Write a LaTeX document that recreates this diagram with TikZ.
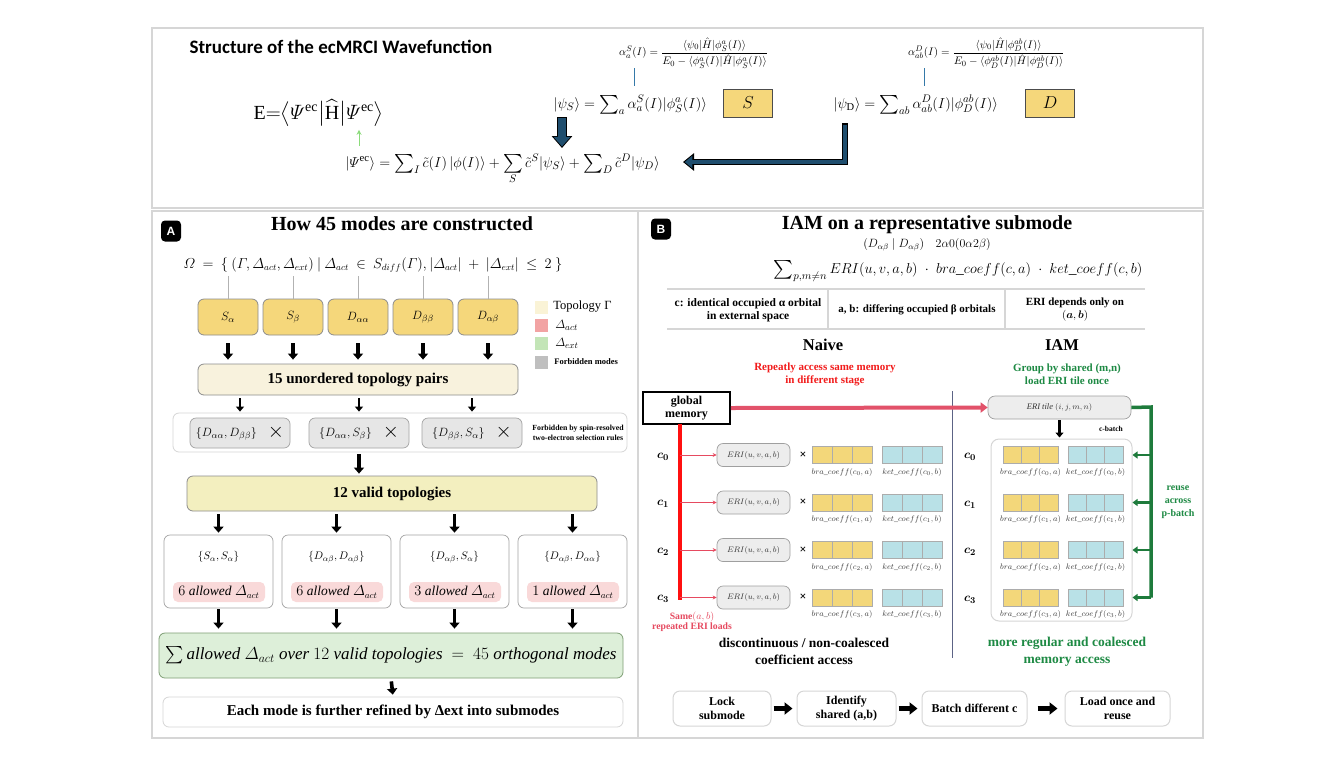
\documentclass[tikz,border=0pt]{standalone}
\usepackage{amsmath}
\usepackage{graphicx}
\usepackage{fontspec}
\setmainfont{Liberation Serif}
\newfontfamily\calibri{Carlito}
\newfontfamily\badgefont{Liberation Sans}
\usetikzlibrary{positioning,arrows.meta,calc}

\definecolor{panelgray}{HTML}{D6D6D6}
\definecolor{boxgray}{HTML}{8C8C8C}
\definecolor{gold}{HTML}{F5D77B}
\definecolor{cream}{HTML}{F8F2DD}
\definecolor{paleyellow}{HTML}{F3EFBF}
\definecolor{palepink}{HTML}{F9D9D9}
\definecolor{legpink}{HTML}{F2A3A3}
\definecolor{legcream}{HTML}{FAF3D6}
\definecolor{leggreen}{HTML}{C3E5B7}
\definecolor{leggray}{HTML}{BFBFBF}
\definecolor{palegreen}{HTML}{DDEFD9}
\definecolor{greenedge}{HTML}{7E9E74}
\definecolor{forbidgray}{HTML}{E6E6E6}
\definecolor{navyblue}{HTML}{1F4E6E}
\definecolor{tickblue}{HTML}{3579A8}
\definecolor{lightgreen}{HTML}{8BDB7A}
\definecolor{memred}{HTML}{E2526A}
\definecolor{hotred}{HTML}{FF1010}
\definecolor{textred}{HTML}{F21B1B}
\definecolor{pinkred}{HTML}{E64A60}
\definecolor{iamgreen}{HTML}{1E8A44}
\definecolor{linegreen}{HTML}{1E7B3C}
\definecolor{cellgold}{HTML}{F3D77A}
\definecolor{cellcyan}{HTML}{B9E1E7}
\definecolor{divider}{HTML}{5C6385}
\definecolor{tilegray}{HTML}{EDEDED}

\newcommand{\fsz}[2]{\fontsize{#1}{#2}\selectfont}
\newcommand{\msum}{\mathop{\vcenter{\hbox{\scalebox{1.3}{$\textstyle\sum$}}}}}

\begin{document}
\begin{tikzpicture}[x=1pt, y=-1pt,
  panel/.style={draw=panelgray, line width=1.6pt},
  badge/.style={fill=black, rounded corners=4pt, minimum width=20pt, minimum height=21pt, inner sep=0pt, text=white, font=\badgefont\bfseries\fsz{12}{12}},
  heading/.style={font=\bfseries\fsz{20}{22}},
  topo/.style={draw=boxgray, fill=gold, rounded corners=6pt, line width=0.8pt, minimum width=60pt, minimum height=36pt, inner sep=0pt, font=\fsz{13}{13}},
  stage/.style={draw=boxgray, rounded corners=6pt, line width=0.8pt, inner sep=0pt, font=\bfseries\fsz{15}{15}},
  forbid/.style={draw=boxgray!80, fill=forbidgray, rounded corners=6pt, line width=0.7pt, minimum width=100pt, minimum height=30pt, inner sep=0pt, font=\fsz{13}{13}},
  pairbox/.style={draw=boxgray!80, fill=white, rounded corners=6pt, line width=0.7pt, minimum width=109pt, minimum height=73pt, inner sep=0pt},
  allowed/.style={fill=palepink, rounded corners=5pt, minimum width=92pt, minimum height=20pt, inner sep=0pt, font=\fsz{13.5}{13.5}},
  legsq/.style={minimum width=13pt, minimum height=13pt, inner sep=0pt},
  tickline/.style={tickblue, line width=1pt},
  blk/.style={line width=3.6pt, -{Triangle[width=10pt,length=6pt]}},
  blks/.style={line width=2.8pt, -{Triangle[width=8pt,length=5pt]}},
  blkh/.style={line width=5pt, -{Triangle[width=12pt,length=8pt]}},
  flowbox/.style={draw=panelgray, rounded corners=7pt, line width=1pt, minimum height=35pt, inner sep=0pt, align=center, font=\bfseries\fsz{12}{14}},
  eri/.style={draw=gray!75, fill=tilegray, rounded corners=6pt, line width=0.7pt, minimum width=73pt, minimum height=23pt, inner sep=0pt, text=black!80, font=\fsz{8.5}{8.5}},
  cellrow/.style={draw=gray!65, line width=0.7pt, minimum height=17pt, inner sep=0pt,
    path picture={\draw[gray!65, line width=0.7pt]
      ($(path picture bounding box.south west)!1/3!(path picture bounding box.south east)$) -- ($(path picture bounding box.north west)!1/3!(path picture bounding box.north east)$)
      ($(path picture bounding box.south west)!2/3!(path picture bounding box.south east)$) -- ($(path picture bounding box.north west)!2/3!(path picture bounding box.north east)$);}},
  coeff/.style={font=\fsz{8}{8}, text=black!75, inner sep=1pt, label distance=3pt},
  clabel/.style={font=\fsz{13}{13}},
  mult/.style={font=\bfseries\fsz{12}{12}},
  gline/.style={linegreen, line width=3.5pt},
  garr/.style={linegreen, line width=2.5pt, -{Triangle[width=7pt,length=5pt]}},
  rarr/.style={pinkred, line width=1pt, -{Stealth[width=4pt,length=4pt]}},
]
\useasboundingbox (0,0) rectangle (1344,756);
\fill[white] (0,0) rectangle (1344,756);

% Panels
\draw[panel] (152,28) rectangle (1203,208);
\draw[panel] (152,211) rectangle (637.5,738);
\draw[panel] (638,211) rectangle (1203,738);

% Wavefunction structure
\node[anchor=west, font=\calibri\bfseries\fsz{19}{21}] (title) at (186,47) {Structure of the ecMRCI Wavefunction};
\node[anchor=base west, font=\fsz{20}{22}] (energy) at (250,119) {$\mathrm{E}{=}\big\langle\varPsi^{\mathrm{ec}}\big|\widehat{\mathrm{H}}\big|\varPsi^{\mathrm{ec}}\big\rangle$};
\node[anchor=base west, font=\fsz{15.3}{18}] (psiec) at (342,167) {$|\varPsi^{\mathrm{ec}}\rangle = \msum\nolimits_{I}\tilde{c}(I)\,|\phi(I)\rangle + \msum\limits_{S}\tilde{c}^{S}|\psi_{S}\rangle + \msum\nolimits_{D}\tilde{c}^{D}|\psi_{D}\rangle$};
\node[anchor=base west, font=\fsz{15}{18}] (psis) at (550,108) {$|\psi_{S}\rangle = \msum\nolimits_{a}\alpha_{a}^{S}(I)|\phi_{S}^{a}(I)\rangle$};
\node[anchor=base west, font=\fsz{15}{18}] (psid) at (830,108) {$|\psi_{\mathrm{D}}\rangle = \msum\nolimits_{ab}\alpha_{ab}^{D}(I)|\phi_{D}^{ab}(I)\rangle$};
\node[anchor=west, font=\fsz{11}{12}, inner sep=0pt] (salpha) at (619,53) {$\alpha_{a}^{S}(I)=\dfrac{\langle\psi_0|\hat{H}|\phi_S^a(I)\rangle}{E_0-\langle\phi_S^a(I)|\hat{H}|\phi_S^a(I)\rangle}$};
\node[anchor=west, font=\fsz{11}{12}, inner sep=0pt] (dalpha) at (908,53) {$\alpha_{ab}^{D}(I)=\dfrac{\langle\psi_0|\hat{H}|\phi_D^{ab}(I)\rangle}{E_0-\langle\phi_D^{ab}(I)|\hat{H}|\phi_D^{ab}(I)\rangle}$};
\node[draw=black!70, fill=gold, line width=0.8pt, minimum width=49pt, minimum height=28pt, font=\fsz{19}{19}] (sbox) at (748,103) {$S$};
\node[draw=black!70, fill=gold, line width=0.8pt, minimum width=49pt, minimum height=28pt, font=\fsz{19}{19}] (dbox) at (1050,103) {$D$};

\coordinate (stick) at (634,86);
\coordinate (dtick) at (924,86);
\draw[tickline] (stick |- salpha.south) -- (stick);
\draw[tickline] (dtick |- dalpha.south) -- (dtick);

\coordinate (gfoot) at (359,146);
\draw[lightgreen, line width=1pt, -{Stealth[width=5pt,length=5pt]}] (gfoot) -- (gfoot |- energy.south);

% block arrows into the expansion
\coordinate (sfoot) at (562,117);
\coordinate (stip) at (562,148);
\draw[black, line width=10.5pt, -{Triangle[width=20pt,length=12pt]}] (sfoot) -- (stip);
\draw[navyblue, line width=8.5pt, shorten <=1pt, shorten >=1.6pt, -{Triangle[width=16.5pt,length=9.6pt]}] (sfoot) -- (stip);

\coordinate (dfoot) at (845,123);
\coordinate (dtip) at (683,162);
\draw[black, line width=6.5pt, -{Triangle[width=17pt,length=11pt]}] (dfoot) |- (dtip);
\draw[navyblue, line width=3.5pt, shorten <=1.5pt, shorten >=1.8pt, -{Triangle[width=12pt,length=7.5pt]}] (dfoot) |- (dtip);

% Panel A
\node[badge] (badgea) at (171,231) {A};
\node[heading] (titlea) at (402,224) {How 45 modes are constructed};
\node[font=\fsz{13.3}{16}] (omega) at (373,265) {$\varOmega\ =\ \{\ (\varGamma,\varDelta_{act},\varDelta_{ext})\ |\ \varDelta_{act}\ \in\ S_{diff}(\varGamma),|\varDelta_{act}|\ +\ |\varDelta_{ext}|\ \le\ 2\ \}$};

\node[topo] (sa) at (228,317) {$S_{\alpha}$};
\node[topo] (sb) at (293,317) {$S_{\beta}$};
\node[topo] (daa) at (358,317) {$D_{\alpha\alpha}$};
\node[topo] (dbb) at (423,317) {$D_{\beta\beta}$};
\node[topo] (dab) at (488,317) {$D_{\alpha\beta}$};
\foreach \b in {sa,sb,daa,dbb,dab}
  \draw[gray!60, line width=0.7pt] (\b.north) -- (\b.north |- omega.south);

% Legend
\node[legsq, fill=legcream] (lg1) at (541.5,307) {};
\node[legsq, fill=legpink] (lg2) at (541.5,325) {};
\node[legsq, fill=leggreen] (lg3) at (541.5,343) {};
\node[legsq, fill=leggray] (lg4) at (541.5,362) {};
\node[font=\fsz{12.5}{13}, right=5pt of lg1, inner sep=0pt] (lg1t) {Topology Γ};
\node[font=\fsz{12.5}{13}, right=7pt of lg2, inner sep=0pt] (lg2t) {$\varDelta_{act}$};
\node[font=\fsz{12.5}{13}, right=7pt of lg3, inner sep=0pt] (lg3t) {$\varDelta_{ext}$};
\node[font=\bfseries\fsz{8.5}{9}, right=6pt of lg4, inner sep=0pt] (lg4t) {Forbidden modes};

\node[stage, fill=cream, minimum width=320pt, minimum height=31pt] (pairs) at (358,379.5) {15 unordered topology pairs};
\foreach \b in {sa,sb,daa,dbb,dab}
  \draw[blk, shorten <=8pt, shorten >=4pt] (\b.south) -- (\b.south |- pairs.north);

% Forbidden pairs
\node[draw=panelgray, fill=white, rounded corners=6pt, line width=0.8pt, minimum width=454pt, minimum height=39pt] (forb) at (400,432.5) {};
\node[forbid] (f1) at (240,433) {$\{D_{\alpha\alpha},D_{\beta\beta}\}$\hspace{11pt}\raisebox{-1pt}{\fsz{21}{21}$\times$}};
\node[forbid] (f2) at (359,433) {$\{D_{\alpha\alpha},S_{\beta}\}$\hspace{11pt}\raisebox{-1pt}{\fsz{21}{21}$\times$}};
\node[forbid] (f3) at (472,433) {$\{D_{\beta\beta},S_{\alpha}\}$\hspace{11pt}\raisebox{-1pt}{\fsz{21}{21}$\times$}};
\node[font=\bfseries\fsz{7.8}{9.5}, align=center] (forbnote) at (578,433) {Forbidden by spin-resolved\\two-electron selection rules};
\foreach \f in {f1,f2,f3}
  \draw[blks, shorten <=3pt, shorten >=1pt] (\f.north |- pairs.south) -- (\f.north |- forb.north);

\node[stage, fill=paleyellow, minimum width=410pt, minimum height=35pt] (valid) at (392,493.5) {12 valid topologies};
\draw[blk, shorten <=2pt, shorten >=2pt] (f2.south |- forb.south) -- (f2.south |- valid.north);

% Valid topologies
\node[pairbox] (t1) at (218.5,571.5) {};
\node[pairbox] (t2) at (336.5,571.5) {};
\node[pairbox] (t3) at (454.5,571.5) {};
\node[pairbox] (t4) at (572.5,571.5) {};
\node[font=\fsz{11}{11}] (t1s) at (218.5,557) {$\{S_{\alpha},S_{\alpha}\}$};
\node[font=\fsz{11}{11}] (t2s) at (336.5,557) {$\{D_{\alpha\beta},D_{\alpha\beta}\}$};
\node[font=\fsz{11}{11}] (t3s) at (454.5,557) {$\{D_{\alpha\beta},S_{\alpha}\}$};
\node[font=\fsz{11}{11}] (t4s) at (572.5,557) {$\{D_{\alpha\beta},D_{\alpha\alpha}\}$};
\node[allowed] (t1n) at (219,592) {$6\ \mathit{allowed}\ \varDelta_{act}$};
\node[allowed] (t2n) at (337,592) {$6\ \mathit{allowed}\ \varDelta_{act}$};
\node[allowed] (t3n) at (455,592) {$3\ \mathit{allowed}\ \varDelta_{act}$};
\node[allowed] (t4n) at (573,592) {$1\ \mathit{allowed}\ \varDelta_{act}$};

\node[draw=greenedge, fill=palegreen, rounded corners=6pt, line width=0.8pt, minimum width=464pt, minimum height=45pt, font=\fsz{17}{17}] (total) at (391,655.5) {$\sum\mathit{allowed}\ \varDelta_{act}\ \mathit{over}\ 12\ \mathit{valid\ topologies}\ =\ 45\ \mathit{orthogonal\ modes}$};
\foreach \t in {t1,t2,t3,t4}{
  \draw[blk, shorten <=3pt, shorten >=2pt] (\t.north |- valid.south) -- (\t.north);
  \draw[blk, shorten <=1pt, shorten >=4pt] (\t.south) -- (\t.south |- total.north);
}

\node[draw=panelgray, fill=white, rounded corners=6pt, line width=0.8pt, minimum width=460pt, minimum height=30pt, font=\bfseries\fsz{15}{15}] (refine) at (393,712) {Each mode is further refined by Δext into submodes};
\draw[blk, shorten <=3pt, shorten >=2pt] (total.south) -- (refine.north);

% Panel B
\node[badge] (badgeb) at (661,229) {B};
\node[heading] (titleb) at (927,225) {IAM on a representative submode};
\node[font=\fsz{11.5}{12}] (subb) at (927,245) {$(D_{\alpha\beta}\mid D_{\alpha\beta})\quad 2\alpha0(0\alpha2\beta)$};
\node[font=\fsz{15.5}{20}] (sumb) at (958,271) {$\msum\nolimits_{p,m\neq n} ERI(u,v,a,b)\;\cdot\;bra\_coeff(c,a)\;\cdot\;ket\_coeff(c,b)$};

\draw[panelgray, line width=1.2pt] (667,289) -- (1145,289) (667,329) -- (1145,329) (828,289) -- (828,329) (1005,289) -- (1005,329);
\node[font=\bfseries\fsz{11.5}{13}, align=center] (col1) at (748,310) {c: identical occupied α orbital\\in external space};
\node[font=\bfseries\fsz{11}{13}, align=center] (col2) at (917,310) {a, b: differing occupied β orbitals};
\node[font=\bfseries\fsz{11}{13}, align=center] (col3) at (1075,310) {ERI depends only on\\$(\boldsymbol{a},\boldsymbol{b})$};

\node[font=\bfseries\fsz{16.5}{17}] (naive) at (823,345) {Naive};
\node[font=\bfseries\fsz{16.5}{17}] (iam) at (1062,345) {IAM};
\node[font=\bfseries\fsz{11}{13}, text=textred, align=center] (redtxt) at (825,374.5) {Repeatly access same memory\\in different stage};
\node[font=\bfseries\fsz{11}{13}, text=iamgreen, align=center] (greentxt) at (1067,374.5) {Group by shared (m,n)\\load ERI tile once};

\draw[divider, line width=0.9pt] (952,391) -- (952,658);

% Naive path
\node[draw=black, line width=1.8pt, fill=white, minimum width=87pt, minimum height=32pt, inner sep=0pt, align=center, font=\bfseries\fsz{12}{13}] (gm) at (686.5,408) {global\\memory};
\node[draw=gray!75, fill=tilegray, rounded corners=7pt, line width=0.7pt, minimum width=143pt, minimum height=23pt, inner sep=0pt, text=black!80, font=\fsz{8.5}{8.5}] (tile) at (1059.5,407.5) {$\mathit{ERI\ tile}\ (i,j,m,n)$};
\draw[memred, line width=4pt, -{Triangle[width=10pt,length=7pt]}] (gm.east) -- (tile.west);

\coordinate (rtop) at (680,424);
\coordinate (rbot) at (680,600);
\draw[hotred, line width=4pt] (rtop) -- (rbot);

\foreach \i/\y in {0/455,1/502.5,2/550,3/597.5}{
  \node[clabel] (nc\i) at (663,\y+1.5) {$\boldsymbol{c_{\i}}$};
  \node[eri] (eri\i) at (753.5,\y) {$ERI(u,v,a,b)$};
  \node[mult] (nx\i) at (803,\y) {×};
  \node[cellrow, fill=cellgold, minimum width=60pt, label={[coeff]below:$bra\_coeff(c_{\i},a)$}] (nb\i) at (842,\y) {};
  \node[cellrow, fill=cellcyan, minimum width=60pt, label={[coeff]below:$ket\_coeff(c_{\i},b)$}] (nk\i) at (912,\y) {};
  \draw[rarr] (rtop |- eri\i) -- (eri\i.west);
}
\node[font=\bfseries\fsz{9.7}{10.5}, text=pinkred, align=center] (samenote) at (692,622) {Same$(a,b)$\\repeated ERI loads};
\node[font=\bfseries\fsz{13.5}{17}, align=center] (naivenote) at (804,651.5) {discontinuous / non-coalesced\\coefficient access};

% IAM path
\node[draw=panelgray, fill=white, rounded corners=8pt, line width=1pt, minimum width=141pt, minimum height=182pt] (ibox) at (1061.5,530) {};
\draw[blks, shorten <=1pt, shorten >=1pt] (tile.south) -- (tile.south |- ibox.north);
\node[font=\bfseries\fsz{7.5}{8}] (cbatch) at (1111,429) {c-batch};
\coordinate (gtop) at (1151,407);
\foreach \i/\y in {0/455,1/502.5,2/550,3/597.5}{
  \node[clabel] (ic\i) at (970,\y+2) {$\boldsymbol{c_{\i}}$};
  \node[cellrow, fill=cellgold, minimum width=55pt, label={[coeff]below:$bra\_coeff(c_{\i},a)$}] (ib\i) at (1030.5,\y) {};
  \node[cellrow, fill=cellcyan, minimum width=55pt, label={[coeff]below:$ket\_coeff(c_{\i},b)$}] (ik\i) at (1095.5,\y) {};
}
\draw[gline] (tile.east) -- (gtop) -- (gtop |- ik3);
\foreach \i in {0,1,2,3}
  \draw[garr] (gtop |- ik\i) -- (ibox.east |- ik\i);
\node[font=\bfseries\fsz{10}{13}, text=iamgreen, align=center] (reuse) at (1178,502) {reuse\\across\\p-batch};
\node[font=\bfseries\fsz{13.5}{17}, text=iamgreen, align=center] (iamnote) at (1067,651.5) {more regular and coalesced\\memory access};

% Workflow
\node[flowbox, minimum width=98pt] (lock) at (722,708.5) {Lock\\submode};
\node[flowbox, minimum width=99pt, right=25pt of lock] (ident) {Identify\\shared (a,b)};
\node[flowbox, minimum width=105pt, right=25pt of ident] (batch) {Batch different c};
\node[flowbox, minimum width=105pt, right=37pt of batch] (load) {Load once and\\reuse};
\draw[blkh, shorten <=2pt, shorten >=4pt] (lock) -- (ident);
\draw[blkh, shorten <=2pt, shorten >=4pt] (ident) -- (batch);
\draw[blkh, shorten <=10pt, shorten >=7pt] (batch) -- (load);
\end{tikzpicture}
\end{document}
